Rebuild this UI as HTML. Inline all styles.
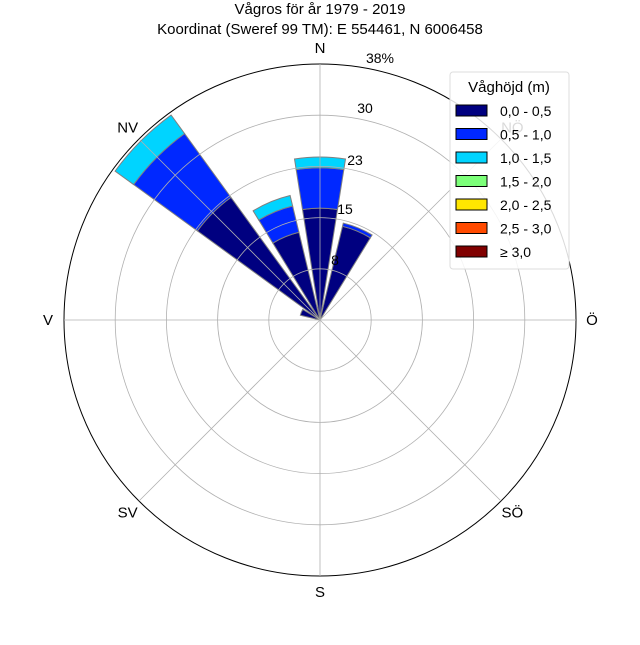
<!DOCTYPE html>
<html><head><meta charset="utf-8"><style>
body{margin:0;background:#fff;}
svg text{font-family:"Liberation Sans",sans-serif;fill:#000;}
</style></head><body>
<svg id="c" width="640" height="640" xmlns="http://www.w3.org/2000/svg">
<text x="320" y="14" font-size="15" text-anchor="middle">Vågros för år 1979 - 2019</text>
<text x="320" y="34" font-size="15" text-anchor="middle">Koordinat (Sweref 99 TM): E 554461, N 6006458</text>
<g id="bars"></g><g id="grid"></g>
</svg>
<script>
const directions=["N","NNÖ","NÖ","ÖNÖ","Ö","ÖSÖ","SÖ","SSÖ","S","SSV","SV","VSV","V","VNV","NV","NNV"];
const binLabels=["0,0 - 0,5","0,5 - 1,0","1,0 - 1,5","1,5 - 2,0","2,0 - 2,5","2,5 - 3,0","≥ 3,0"];
const binColors=["#000080","#0028ff","#00d4ff","#7cff79","#ffe600","#ff4a00","#800000"];
const s0=[16.6,14.3,0,0,0,0,0,0,0,0,0,0,0,3.0,22.5,13.4];
const s1=[6.0,0.5,0,0,0,0,0,0,0,0,0,0,0,0,11.7,4.0];
const s2=[1.6,0,0,0,0,0,0,0,0,0,0,0,0,0,3.4,1.6];
const series=[s0,s1,s2];
const ringLabels=["8","15","23","30","38%"];
const compassLabels=["N","NÖ","Ö","SÖ","S","SV","V","NV"];
const rMax=38;
const NS="http://www.w3.org/2000/svg";
const cx=320,cy=320,R=256;
const svg=document.getElementById('c'),bars=document.getElementById('bars'),grid=document.getElementById('grid');
function rs(v){return v/rMax*R;}
function pt(a,r){const t=a*Math.PI/180;return [cx+r*Math.sin(t),cy-r*Math.cos(t)];}
function mk(tag,at,parent){const e=document.createElementNS(NS,tag);for(const k in at)e.setAttribute(k,at[k]);(parent||svg).appendChild(e);return e;}
const half=9;
directions.forEach((d,i)=>{
  let base=0;const a=i*22.5;
  series.forEach((s,j)=>{
    const v=s[i];if(!v)return;
    const r0=rs(base),r1=rs(base+v);base+=v;
    const p1=pt(a-half,r0),p2=pt(a-half,r1),p3=pt(a+half,r1),p4=pt(a+half,r0);
    const dstr=`M${p1}L${p2}A${r1},${r1} 0 0 1 ${p3}L${p4}`+(r0>0?`A${r0},${r0} 0 0 0 ${p1}Z`:'Z');
    const e=mk('path',{d:dstr,fill:binColors[j],stroke:'#808080','stroke-width':1},bars);
    
    
  });
});
for(let k=1;k<=5;k++){
  const e=mk('circle',{cx,cy,r:R*k/5,fill:'none',stroke:k==5?'#000':'#b0b0b0','stroke-width':k==5?1:0.8},grid);
  
  
}
for(let k=0;k<8;k++){
  const p=pt(k*45,R);
  const e=mk('line',{x1:cx,y1:cy,x2:p[0],y2:p[1],stroke:'#b0b0b0','stroke-width':0.8},grid);
  
  
  const q=pt(k*45,272);
  const t=mk('text',{x:q[0],y:q[1]+5,'font-size':15,'text-anchor':'middle',fill:k==1?'#ccc':'#000'});
  t.textContent=compassLabels[k];
  
  
}
const lp=[[335,265],[345,214],[355,165],[365,113],[380,63]];
ringLabels.forEach((l,k)=>{
  const t=mk('text',{x:lp[k][0],y:lp[k][1],'font-size':14,'text-anchor':'middle'});
  t.textContent=l;
  
  
});
const lg=mk('g',{});


mk('rect',{x:450,y:72,width:119,height:197,rx:3,fill:'#fff','fill-opacity':0.85,stroke:'#ddd'},lg);
const lt=mk('text',{x:509,y:92,'font-size':15,'text-anchor':'middle'},lg);lt.textContent='Våghöjd (m)';
binLabels.forEach((l,j)=>{
  const y=111+j*23.5;
  const r=mk('rect',{x:456,y:y-6,width:31,height:11,fill:binColors[j],stroke:'#000','stroke-width':1},lg);
  
  
  const t=mk('text',{x:500,y:y+5,'font-size':14},lg);t.textContent=l;
  
  
});
</script>
</body></html>
